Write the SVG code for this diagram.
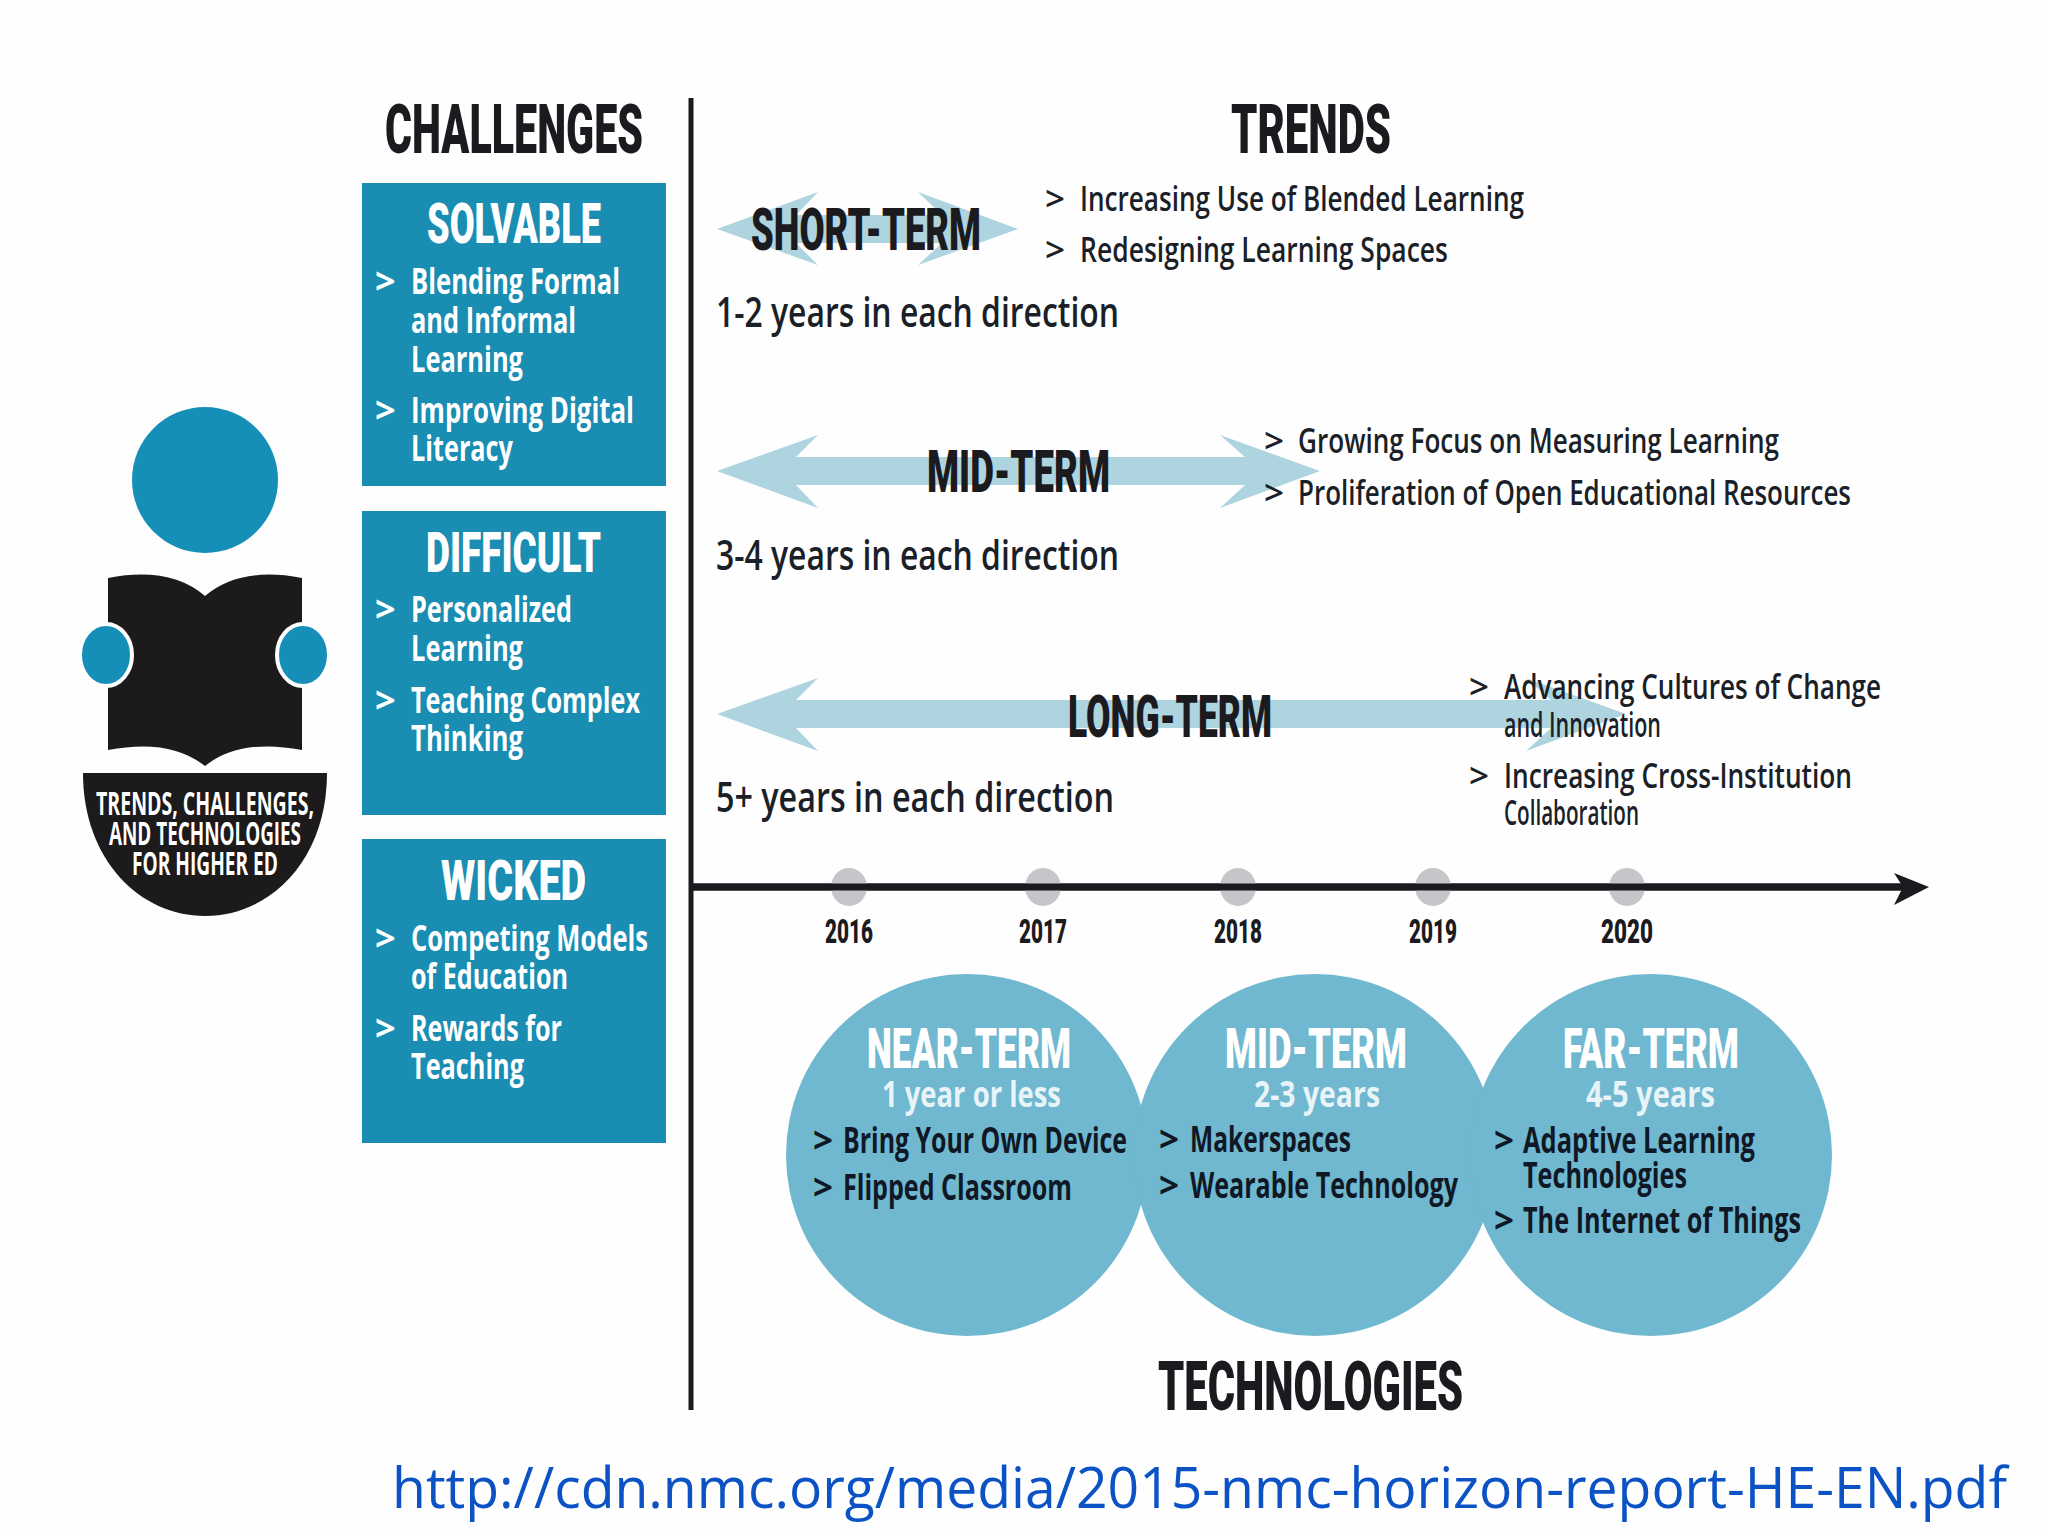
<svg xmlns="http://www.w3.org/2000/svg" width="2048" height="1536" viewBox="0 0 2048 1536">
<style>
text{font-family:"Open Sans","Liberation Sans",sans-serif;font-weight:600}
.h{font-family:"Roboto","Liberation Sans",sans-serif;font-weight:900;fill:#1b1b1f}
.h1{font-size:68px}.h2{font-size:56px}.h3{font-size:33px}
.w{fill:#fff}
.b{font-size:36px;font-weight:700;fill:#fff}
.s{font-size:35px;fill:#1b1f28}
.y{font-size:42px;fill:#1b1f28}
.t{font-size:35px;font-weight:700;fill:#101826}
.o{font-size:35px;font-weight:700;fill:#e8f4f8}
.box{fill:#1a8db3}
.arr{fill:#aed4e0}
.dot{fill:#c6c6ca}
.tc{fill:#6fb8d0}
.blue{fill:#168fb8}
.k{fill:#1c1a1b}
</style>
<rect width="2048" height="1536" fill="#fefefe"/>
<g id="connectors">
<line x1="691" y1="98" x2="691" y2="1410" stroke="#1b1b1f" stroke-width="5"/>
<line x1="691" y1="887" x2="1905" y2="887" stroke="#1b1b1f" stroke-width="7"/>
<path d="M1929 887L1894 873L1903 887L1894 905Z" fill="#1b1b1f"/>
</g>
<g id="person">
<circle cx="205" cy="480" r="73" class="blue"/>
<path class="k" d="M108 578Q170 566 205 596Q240 566 302 578V750Q240 738 205 766Q170 738 108 750Z"/>
<ellipse cx="106" cy="655" rx="26" ry="31" class="blue" stroke="#fff" stroke-width="4"/>
<ellipse cx="303" cy="655" rx="26" ry="31" class="blue" stroke="#fff" stroke-width="4"/>
<path class="k" d="M83 773H327C327 860 270 916 205 916C140 916 83 860 83 773Z"/>
<text x="205" y="815" text-anchor="middle" class="w" font-size="32" style="font-weight:700" textLength="218" lengthAdjust="spacingAndGlyphs">TRENDS, CHALLENGES,</text>
<text x="205" y="845" text-anchor="middle" class="w" font-size="32" style="font-weight:700" textLength="192" lengthAdjust="spacingAndGlyphs">AND TECHNOLOGIES</text>
<text x="205" y="875" text-anchor="middle" class="w" font-size="32" style="font-weight:700" textLength="146" lengthAdjust="spacingAndGlyphs">FOR HIGHER ED</text>
</g>
<g id="challenges-title"><text x="385" y="153" class="h h1" textLength="258" lengthAdjust="spacingAndGlyphs">CHALLENGES</text></g>
<g id="solvable">
<rect x="362" y="183" width="304" height="303" class="box"/>
<text x="427" y="243" class="h h2 w" textLength="174" lengthAdjust="spacingAndGlyphs">SOLVABLE</text>
<text x="375" y="294" class="b">&gt;</text><text x="411" y="294" class="b" textLength="209" lengthAdjust="spacingAndGlyphs">Blending Formal</text>
<text x="411" y="333" class="b" textLength="165" lengthAdjust="spacingAndGlyphs">and Informal</text>
<text x="411" y="372" class="b" textLength="112" lengthAdjust="spacingAndGlyphs">Learning</text>
<text x="375" y="423" class="b">&gt;</text><text x="411" y="423" class="b" textLength="223" lengthAdjust="spacingAndGlyphs">Improving Digital</text>
<text x="411" y="461" class="b" textLength="102" lengthAdjust="spacingAndGlyphs">Literacy</text>
</g>
<g id="difficult">
<rect x="362" y="511" width="304" height="304" class="box"/>
<text x="426" y="572" class="h h2 w" textLength="175" lengthAdjust="spacingAndGlyphs">DIFFICULT</text>
<text x="375" y="622" class="b">&gt;</text><text x="411" y="622" class="b" textLength="161" lengthAdjust="spacingAndGlyphs">Personalized</text>
<text x="411" y="661" class="b" textLength="112" lengthAdjust="spacingAndGlyphs">Learning</text>
<text x="375" y="713" class="b">&gt;</text><text x="411" y="713" class="b" textLength="229" lengthAdjust="spacingAndGlyphs">Teaching Complex</text>
<text x="411" y="751" class="b" textLength="112" lengthAdjust="spacingAndGlyphs">Thinking</text>
</g>
<g id="wicked">
<rect x="362" y="839" width="304" height="304" class="box"/>
<text x="441" y="900" class="h h2 w" textLength="145" lengthAdjust="spacingAndGlyphs">WICKED</text>
<text x="375" y="951" class="b">&gt;</text><text x="411" y="951" class="b" textLength="237" lengthAdjust="spacingAndGlyphs">Competing Models</text>
<text x="411" y="989" class="b" textLength="157" lengthAdjust="spacingAndGlyphs">of Education</text>
<text x="375" y="1041" class="b">&gt;</text><text x="411" y="1041" class="b" textLength="151" lengthAdjust="spacingAndGlyphs">Rewards for</text>
<text x="411" y="1079" class="b" textLength="113" lengthAdjust="spacingAndGlyphs">Teaching</text>
</g>
<g id="trends-title"><text x="1231" y="153" class="h h1" textLength="160" lengthAdjust="spacingAndGlyphs">TRENDS</text></g>
<g id="short-term">
<path class="arr" d="M717 229L818 192L796 215H942L918 192L1018 229L918 265L942 243H796L818 265Z"/>
<text x="751" y="250" class="h h1" style="font-size:60px" textLength="230" lengthAdjust="spacingAndGlyphs">SHORT-TERM</text>
<text x="1045" y="211" class="s">&gt;</text><text x="1080" y="211" class="s" textLength="444" lengthAdjust="spacingAndGlyphs">Increasing Use of Blended Learning</text>
<text x="1045" y="262" class="s">&gt;</text><text x="1080" y="262" class="s" textLength="368" lengthAdjust="spacingAndGlyphs">Redesigning Learning Spaces</text>
<text x="716" y="327" class="y" textLength="403" lengthAdjust="spacingAndGlyphs">1-2 years in each direction</text>
</g>
<g id="mid-term">
<path class="arr" d="M717 471L818 435L796 457H1245L1220 435L1320 471L1220 508L1245 485H796L818 508Z"/>
<text x="927" y="492" class="h h1" style="font-size:60px" textLength="183" lengthAdjust="spacingAndGlyphs">MID-TERM</text>
<text x="1264" y="453" class="s">&gt;</text><text x="1298" y="453" class="s" textLength="481" lengthAdjust="spacingAndGlyphs">Growing Focus on Measuring Learning</text>
<text x="1264" y="505" class="s">&gt;</text><text x="1298" y="505" class="s" textLength="553" lengthAdjust="spacingAndGlyphs">Proliferation of Open Educational Resources</text>
<text x="716" y="570" class="y" textLength="403" lengthAdjust="spacingAndGlyphs">3-4 years in each direction</text>
</g>
<g id="long-term">
<path class="arr" d="M717 714L818 678L796 700H1551L1526 678L1626 714L1526 751L1551 728H796L818 751Z"/>
<text x="1068" y="737" class="h h1" style="font-size:60px" textLength="204" lengthAdjust="spacingAndGlyphs">LONG-TERM</text>
<text x="1469" y="699" class="s">&gt;</text><text x="1504" y="699" class="s" textLength="377" lengthAdjust="spacingAndGlyphs">Advancing Cultures of Change</text>
<text x="1504" y="737" class="s" textLength="157" lengthAdjust="spacingAndGlyphs">and Innovation</text>
<text x="1469" y="788" class="s">&gt;</text><text x="1504" y="788" class="s" textLength="348" lengthAdjust="spacingAndGlyphs">Increasing Cross-Institution</text>
<text x="1504" y="825" class="s" textLength="135" lengthAdjust="spacingAndGlyphs">Collaboration</text>
<text x="716" y="812" class="y" textLength="398" lengthAdjust="spacingAndGlyphs">5+ years in each direction</text>
</g>
<g id="timeline">
<g id="dots">
<ellipse cx="849" cy="887" rx="18" ry="19" class="dot"/>
<ellipse cx="1043" cy="887" rx="18" ry="19" class="dot"/>
<ellipse cx="1238" cy="887" rx="18" ry="19" class="dot"/>
<ellipse cx="1433" cy="887" rx="18" ry="19" class="dot"/>
<ellipse cx="1627" cy="887" rx="18" ry="19" class="dot"/>
</g>
<line x1="691" y1="887" x2="1905" y2="887" stroke="#1b1b1f" stroke-width="7"/>
<text x="825" y="943" class="h h3" textLength="48" lengthAdjust="spacingAndGlyphs">2016</text>
<text x="1019" y="943" class="h h3" textLength="48" lengthAdjust="spacingAndGlyphs">2017</text>
<text x="1214" y="943" class="h h3" textLength="48" lengthAdjust="spacingAndGlyphs">2018</text>
<text x="1409" y="943" class="h h3" textLength="48" lengthAdjust="spacingAndGlyphs">2019</text>
<text x="1601" y="943" class="h h3" textLength="52" lengthAdjust="spacingAndGlyphs">2020</text>
</g>
<g id="near-term-tech">
<circle cx="967" cy="1155" r="181" class="tc"/>
<text x="867" y="1068" class="h h2 w" textLength="204" lengthAdjust="spacingAndGlyphs">NEAR-TERM</text>
<text x="882" y="1107" class="o" textLength="179" lengthAdjust="spacingAndGlyphs">1 year or less</text>
<text x="813" y="1153" class="t">&gt;</text><text x="843" y="1153" class="t" textLength="284" lengthAdjust="spacingAndGlyphs">Bring Your Own Device</text>
<text x="813" y="1200" class="t">&gt;</text><text x="843" y="1200" class="t" textLength="229" lengthAdjust="spacingAndGlyphs">Flipped Classroom</text>
</g>
<g id="mid-term-tech">
<circle cx="1315" cy="1155" r="181" class="tc"/>
<text x="1225" y="1068" class="h h2 w" textLength="182" lengthAdjust="spacingAndGlyphs">MID-TERM</text>
<text x="1254" y="1107" class="o" textLength="126" lengthAdjust="spacingAndGlyphs">2-3 years</text>
<text x="1159" y="1152" class="t">&gt;</text><text x="1190" y="1152" class="t" textLength="161" lengthAdjust="spacingAndGlyphs">Makerspaces</text>
<text x="1159" y="1198" class="t">&gt;</text><text x="1190" y="1198" class="t" textLength="268" lengthAdjust="spacingAndGlyphs">Wearable Technology</text>
</g>
<g id="far-term-tech">
<circle cx="1651" cy="1155" r="181" class="tc"/>
<text x="1563" y="1068" class="h h2 w" textLength="176" lengthAdjust="spacingAndGlyphs">FAR-TERM</text>
<text x="1586" y="1107" class="o" textLength="129" lengthAdjust="spacingAndGlyphs">4-5 years</text>
<text x="1494" y="1153" class="t">&gt;</text><text x="1523" y="1153" class="t" textLength="232" lengthAdjust="spacingAndGlyphs">Adaptive Learning</text>
<text x="1523" y="1188" class="t" textLength="164" lengthAdjust="spacingAndGlyphs">Technologies</text>
<text x="1494" y="1233" class="t">&gt;</text><text x="1523" y="1233" class="t" textLength="278" lengthAdjust="spacingAndGlyphs">The Internet of Things</text>
</g>
<g id="technologies-title"><text x="1158" y="1410" class="h h1" textLength="305" lengthAdjust="spacingAndGlyphs">TECHNOLOGIES</text></g>
<g id="source"><text x="392" y="1508" style="font-weight:400" font-size="56" fill="#0b52c4" textLength="1615" lengthAdjust="spacingAndGlyphs">http://cdn.nmc.org/media/2015-nmc-horizon-report-HE-EN.pdf</text></g>
</svg>
